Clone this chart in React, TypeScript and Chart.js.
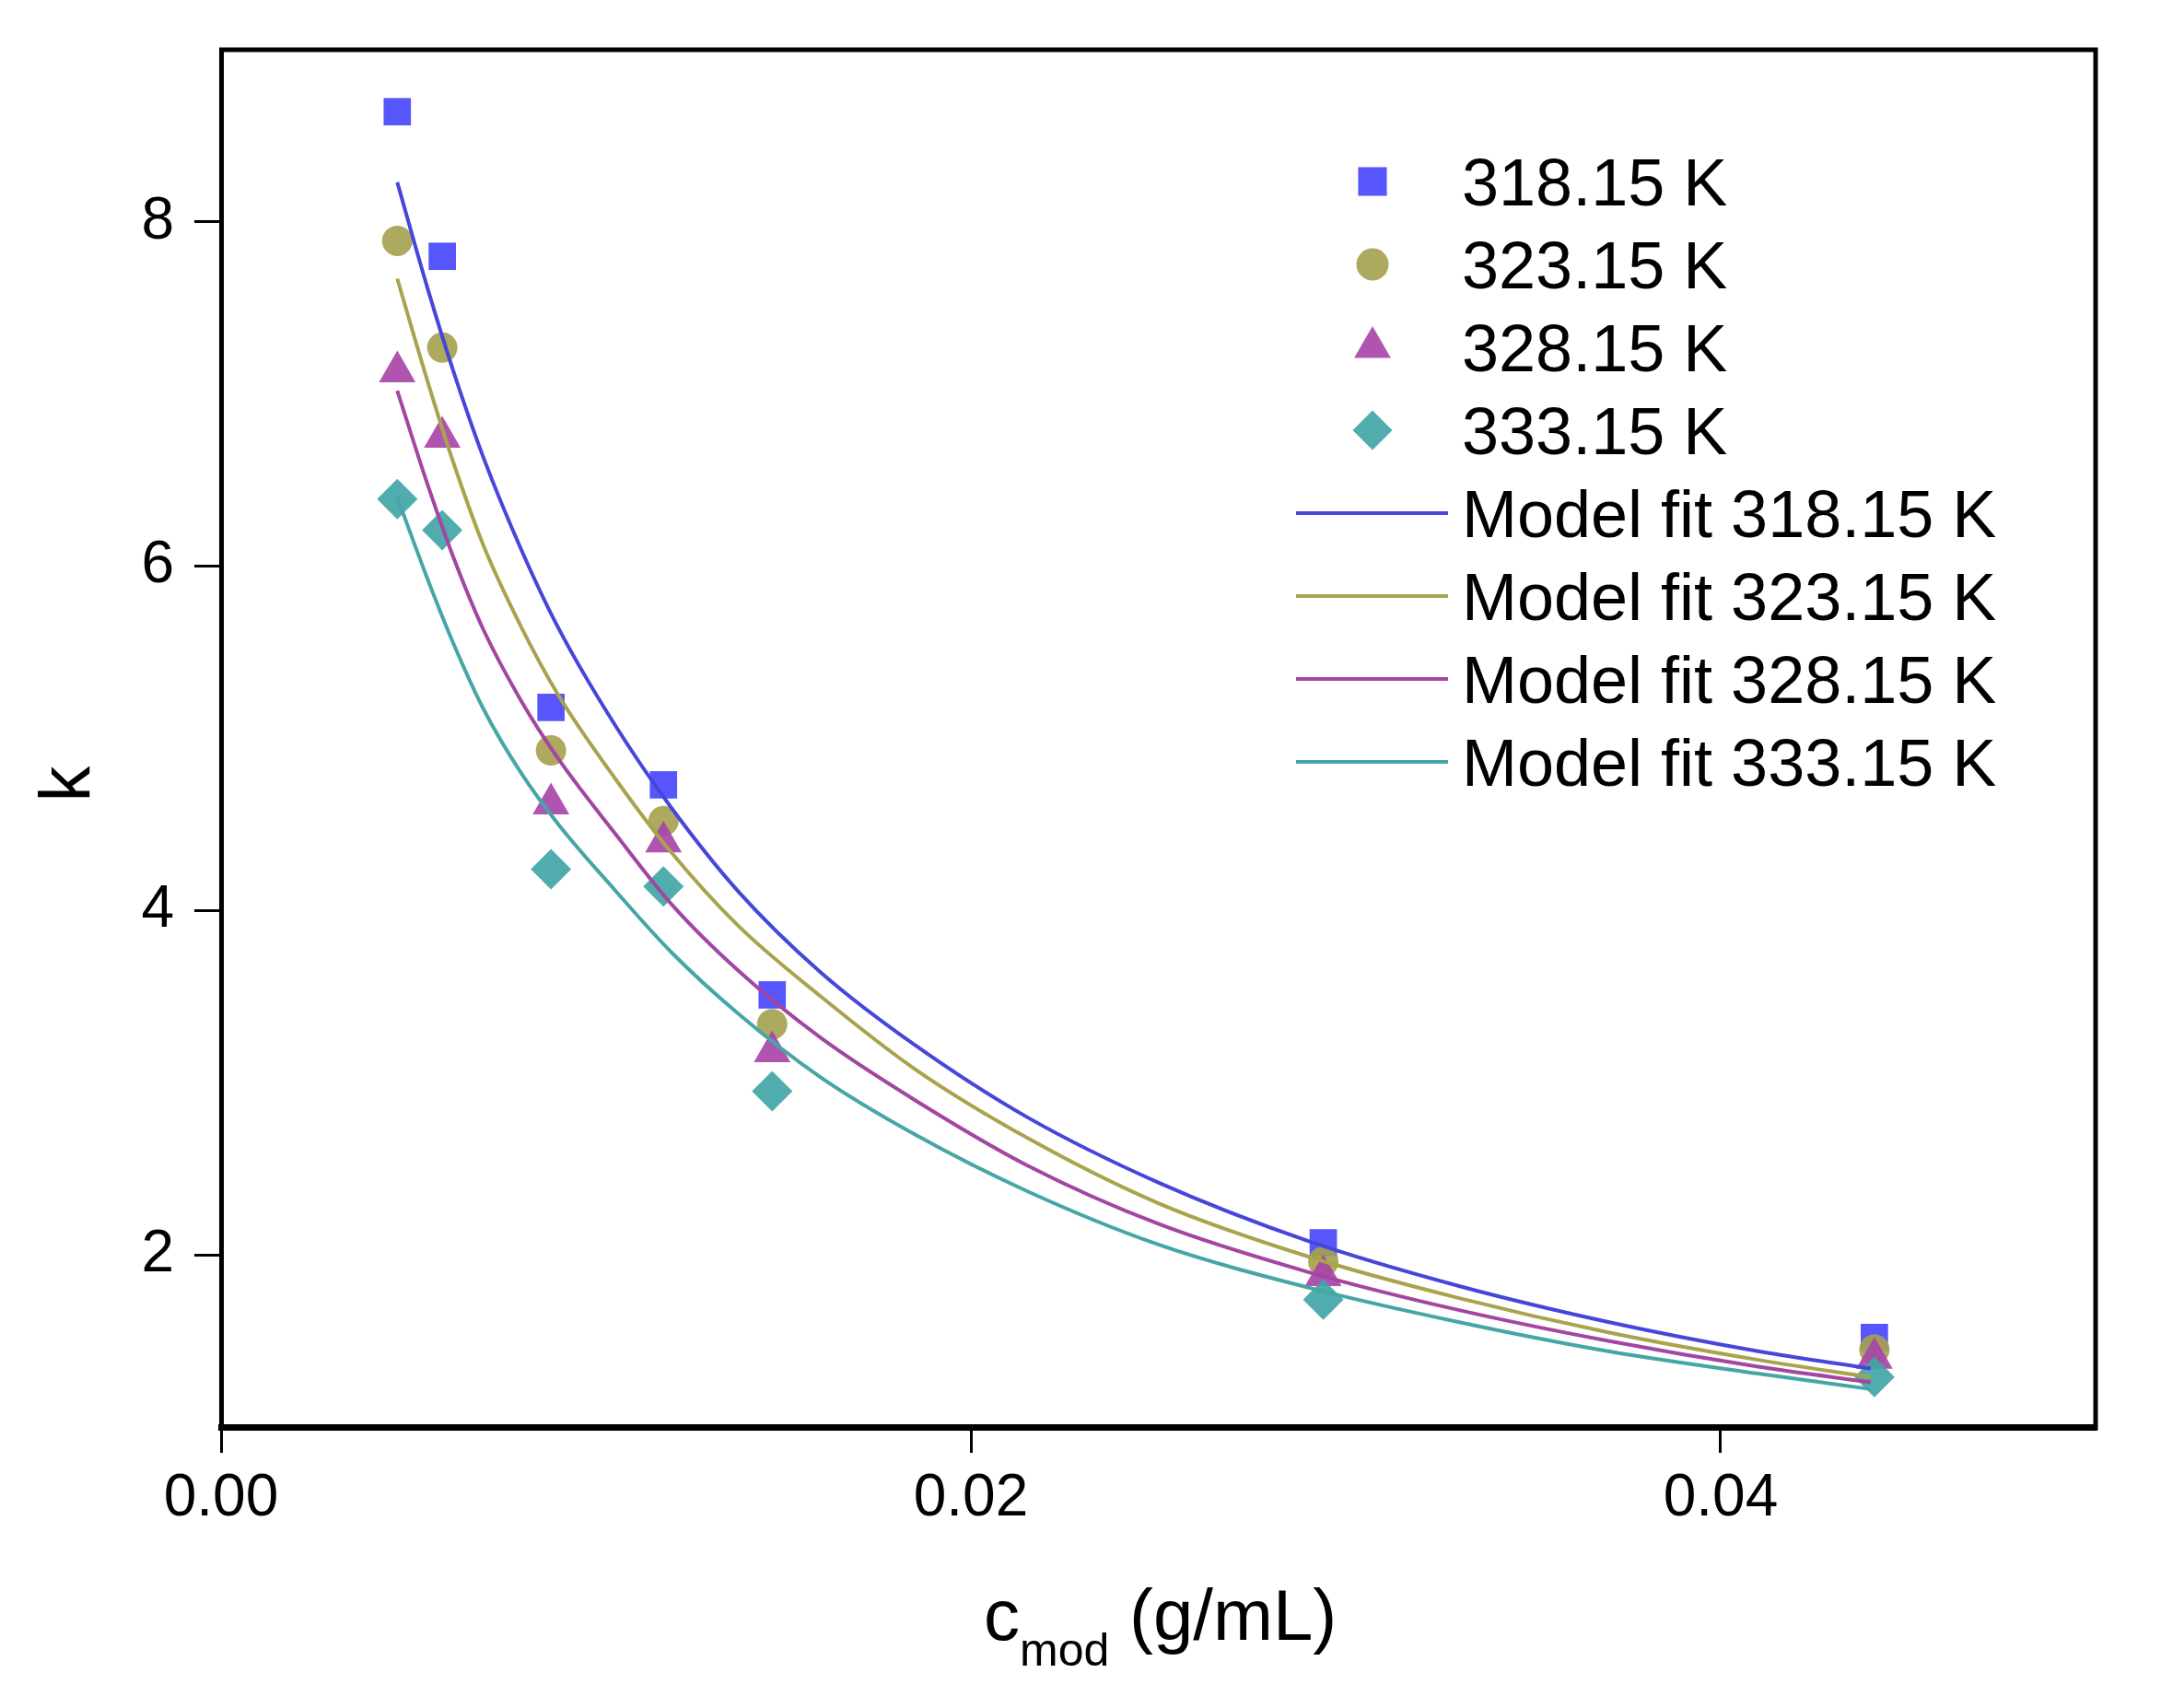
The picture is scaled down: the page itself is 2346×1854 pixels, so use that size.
import { useEffect, useRef } from 'react';
import { Chart, registerables } from 'chart.js';

Chart.register(...registerables);

const FONT = '"Liberation Sans", Arial, Helvetica, sans-serif';

// Experimental concentrations (g/mL)
const xData = [0.0047, 0.0059, 0.0088, 0.0118, 0.0147, 0.0294, 0.0441];
// Measured k values
const k318 = [8.64, 7.80, 5.18, 4.73, 3.51, 2.07, 1.52];
const k323 = [7.89, 7.27, 4.93, 4.52, 3.34, 1.96, 1.45];
const k328 = [7.13, 6.75, 4.62, 4.40, 3.18, 1.88, 1.40];
const k333 = [6.39, 6.21, 4.24, 4.14, 2.95, 1.74, 1.29];

// Model fit curves
const fitX = [0.0047, 0.0055, 0.0062, 0.0070, 0.0080, 0.0090, 0.0105, 0.0120, 0.0138, 0.0160, 0.0185, 0.0215, 0.0250, 0.0290, 0.0330, 0.0370, 0.0410, 0.0440];
const fit318 = [8.23, 7.62, 7.13, 6.63, 6.10, 5.64, 5.08, 4.60, 4.11, 3.64, 3.22, 2.80, 2.42, 2.08, 1.82, 1.61, 1.44, 1.34];
const fit323 = [7.67, 7.08, 6.60, 6.12, 5.65, 5.25, 4.77, 4.34, 3.91, 3.50, 3.08, 2.68, 2.30, 1.99, 1.75, 1.55, 1.39, 1.29];
const fit328 = [7.02, 6.48, 6.05, 5.63, 5.22, 4.88, 4.45, 4.04, 3.65, 3.26, 2.90, 2.52, 2.18, 1.90, 1.68, 1.50, 1.35, 1.26];
const fit333 = [6.40, 5.93, 5.55, 5.17, 4.80, 4.50, 4.12, 3.76, 3.40, 3.03, 2.70, 2.37, 2.06, 1.81, 1.61, 1.44, 1.31, 1.22];

const scatterLabels = ['318.15 K', '323.15 K', '328.15 K', '333.15 K'];
const fitLabels = ['Model fit 318.15 K', 'Model fit 323.15 K', 'Model fit 328.15 K', 'Model fit 333.15 K'];

const xTicks = [0, 0.02, 0.04];
const yTicks = [2, 4, 6, 8];

const markerColors = ['rgba(72,72,252,0.92)', 'rgba(166,162,80,0.92)', 'rgba(168,70,168,0.92)', 'rgba(66,166,166,0.92)'];
const lineColors = ['#4646DA', '#A9A34E', '#A246A2', '#46A6A6'];
const markerStyles = ['rect', 'circle', 'triangle', 'rectRot'];
const markerRadii = [21, 16.5, 23, 22];

function pts(xs: number[], ys: number[]) {
  return xs.map((x, i) => ({ x, y: ys[i] }));
}

function drawMarker(ctx: CanvasRenderingContext2D, style: string, x: number, y: number, r: number, color: string) {
  ctx.save();
  ctx.fillStyle = color;
  ctx.beginPath();
  if (style === 'circle') {
    ctx.arc(x, y, r, 0, Math.PI * 2);
  } else if (style === 'rect') {
    const s = Math.SQRT1_2 * r;
    ctx.rect(x - s, y - s, 2 * s, 2 * s);
  } else if (style === 'triangle') {
    ctx.moveTo(x, y - r);
    ctx.lineTo(x + 0.866 * r, y + 0.5 * r);
    ctx.lineTo(x - 0.866 * r, y + 0.5 * r);
    ctx.closePath();
  } else {
    ctx.moveTo(x - r, y);
    ctx.lineTo(x, y - r);
    ctx.lineTo(x + r, y);
    ctx.lineTo(x, y + r);
    ctx.closePath();
  }
  ctx.fill();
  ctx.restore();
}

export default function App() {
  const ref = useRef<HTMLCanvasElement>(null);

  useEffect(() => {
    if (!ref.current) return;
    const kSeries = [k318, k323, k328, k333];
    const fitSeries = [fit318, fit323, fit328, fit333];

    const scatterSets = kSeries.map((ks, i) => ({
      label: scatterLabels[i],
      data: pts(xData, ks),
      showLine: false,
      pointStyle: markerStyles[i],
      pointRadius: markerRadii[i],
      pointHoverRadius: markerRadii[i],
      pointBackgroundColor: markerColors[i],
      pointBorderWidth: 0,
      borderColor: markerColors[i],
      backgroundColor: markerColors[i],
      order: 5 - i,
    }));
    const fitSets = fitSeries.map((fs, i) => ({
      label: fitLabels[i],
      data: pts(fitX, fs),
      showLine: true,
      pointRadius: 0,
      pointHoverRadius: 0,
      borderColor: lineColors[i],
      backgroundColor: lineColors[i],
      borderWidth: 4,
      cubicInterpolationMode: 'monotone' as const,
      fill: false,
      order: 1,
    }));

    const framePlugin = {
      id: 'frame',
      afterDraw(chart: any) {
        const { ctx, chartArea } = chart;
        ctx.save();
        ctx.strokeStyle = '#000';
        ctx.lineWidth = 5;
        ctx.beginPath();
        ctx.moveTo(chartArea.left - 2, chartArea.top);
        ctx.lineTo(chartArea.right, chartArea.top);
        ctx.lineTo(chartArea.right, chartArea.bottom + 3);
        ctx.stroke();
        ctx.restore();
      },
    };

    const legendPlugin = {
      id: 'insideLegend',
      afterDraw(chart: any) {
        const ctx: CanvasRenderingContext2D = chart.ctx;
        const ds = chart.data.datasets;
        const rowTop = 189;
        const rowGap = 90;
        const markerX = 1482;
        const lineX0 = 1399;
        const lineX1 = 1564;
        const textX = 1579;
        ctx.save();
        ctx.font = `72px ${FONT}`;
        ctx.fillStyle = '#000';
        ctx.textAlign = 'left';
        ctx.textBaseline = 'alphabetic';
        ds.forEach((d: any, i: number) => {
          const y = rowTop + i * rowGap;
          if (d.showLine) {
            ctx.strokeStyle = d.borderColor;
            ctx.lineWidth = 4;
            ctx.beginPath();
            ctx.moveTo(lineX0, y);
            ctx.lineTo(lineX1, y);
            ctx.stroke();
          } else {
            const r = d.pointStyle === 'rect' ? 22 : d.pointStyle === 'circle' ? 17.5 : d.pointStyle === 'triangle' ? 23 : 21.5;
            drawMarker(ctx, d.pointStyle, markerX, y, r, d.pointBackgroundColor);
          }
          ctx.fillStyle = '#000';
          ctx.fillText(d.label, textX, y + 26);
        });
        ctx.restore();
      },
    };

    const titlePlugin = {
      id: 'axisTitles',
      afterDraw(chart: any) {
        const ctx: CanvasRenderingContext2D = chart.ctx;
        ctx.save();
        ctx.fillStyle = '#000';
        ctx.textBaseline = 'alphabetic';
        ctx.textAlign = 'left';
        // x title: c_mod (g/mL)
        let x = 1060;
        const base = 1772;
        ctx.font = `78px ${FONT}`;
        ctx.fillText('c', x, base);
        x += ctx.measureText('c').width;
        ctx.font = `50px ${FONT}`;
        ctx.fillText('mod', x, base + 28);
        x += ctx.measureText('mod').width;
        ctx.font = `78px ${FONT}`;
        ctx.fillText(' (g/mL)', x, base);
        // y title: k (rotated)
        ctx.translate(90, 843);
        ctx.rotate(-Math.PI / 2);
        ctx.textAlign = 'center';
        ctx.font = `78px ${FONT}`;
        ctx.fillText('k', 0, 0);
        ctx.restore();
      },
    };

    const chart = new Chart(ref.current, {
      type: 'scatter',
      data: { datasets: [...scatterSets, ...fitSets] as any },
      options: {
        animation: false,
        responsive: true,
        maintainAspectRatio: false,
        events: [],
        layout: { padding: { top: 46, right: 63, left: 0, bottom: 0 } },
        plugins: {
          legend: { display: false },
          tooltip: { enabled: false },
          title: { display: false },
        },
        scales: {
          x: {
            type: 'linear',
            min: 0,
            max: 0.05,
            afterBuildTicks: (s: any) => {
              s.ticks = xTicks.map((v) => ({ value: v }));
            },
            afterFit: (s: any) => {
              s.height = 297;
              s.paddingLeft = 0;
              s.paddingRight = 0;
              s.paddingTop = 0;
              s.paddingBottom = 0;
            },
            ticks: {
              autoSkip: false,
              maxRotation: 0,
              minRotation: 0,
              padding: 12,
              color: '#000',
              font: { size: 64, family: FONT },
              callback: (v: any) => Number(v).toFixed(2),
            },
            grid: {
              drawOnChartArea: false,
              drawTicks: true,
              tickLength: 28,
              tickWidth: 3,
              tickColor: '#000',
              color: '#000',
              lineWidth: 3,
            },
            border: { display: true, color: '#000', width: 7 },
            title: { display: false },
          },
          y: {
            type: 'linear',
            min: 1,
            max: 9,
            afterBuildTicks: (s: any) => {
              s.ticks = yTicks.map((v) => ({ value: v }));
            },
            afterFit: (s: any) => {
              s.width = 232;
              s.paddingTop = 0;
              s.paddingBottom = 0;
              s.paddingLeft = 0;
              s.paddingRight = 0;
            },
            ticks: {
              padding: 22,
              color: '#000',
              font: { size: 64, family: FONT },
              callback: (v: any) => String(v),
            },
            grid: {
              drawOnChartArea: false,
              drawTicks: true,
              tickLength: 29,
              tickWidth: 3,
              tickColor: '#000',
              color: '#000',
              lineWidth: 3,
            },
            border: { display: true, color: '#000', width: 5 },
            title: { display: false },
          },
        },
      } as any,
      plugins: [framePlugin, legendPlugin, titlePlugin],
    });
    return () => chart.destroy();
  }, []);

  return (
    <div style={{ width: 2330, height: 1838, position: 'relative', background: '#fff' }}>
      <canvas ref={ref} />
    </div>
  );
}
